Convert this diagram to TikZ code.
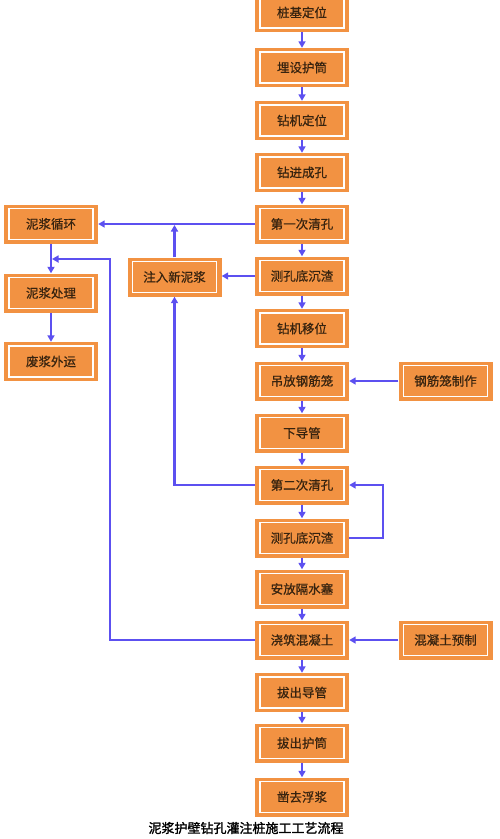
\documentclass[tikz,border=0pt]{standalone}
\usepackage{fontspec}
\newfontfamily\cjk[FakeBold=0.6]{Noto Sans CJK SC}
\newfontfamily\cjkb[FakeBold=1.6]{Noto Sans CJK SC}
\usetikzlibrary{arrows.meta}
\definecolor{boxorange}{RGB}{242,146,66}
\definecolor{flowblue}{RGB}{92,80,240}
\definecolor{txt}{RGB}{55,35,15}
\tikzset{
  stepbox/.style={fill=boxorange, draw=none, minimum width=94pt, minimum height=39pt,
    inner sep=0pt, text=txt, font=\cjk\fontsize{12.5}{14}\selectfont,
    path picture={\draw[white, line width=1.5pt]
      ([shift={(5pt,-4pt)}]path picture bounding box.north west) rectangle
      ([shift={(-5pt,4pt)}]path picture bounding box.south east);}},
  flow/.style={draw=flowblue, line width=2.2pt, -{Triangle[length=6.5pt,width=7pt]}}
}
\begin{document}
\begin{tikzpicture}[x=1pt,y=-1pt]
\useasboundingbox (0,0) rectangle (500,839);
\clip (0,0) rectangle (500,839);
% main column
\node[stepbox] (b1) at (302,12.5) {桩基定位};
\node[stepbox] (b2) at (302,67.5) {埋设护筒};
\node[stepbox] (b3) at (302,120.5) {钻机定位};
\node[stepbox] (b4) at (302,172.5) {钻进成孔};
\node[stepbox] (b5) at (302,224) {第一次清孔};
\node[stepbox] (b6) at (302,276) {测孔底沉渣};
\node[stepbox] (b7) at (302,328.5) {钻机移位};
\node[stepbox] (b8) at (302,381) {吊放钢筋笼};
\node[stepbox] (b9) at (302,433) {下导管};
\node[stepbox] (b10) at (302,485) {第二次清孔};
\node[stepbox] (b11) at (302,538) {测孔底沉渣};
\node[stepbox] (b12) at (302,589) {安放隔水塞};
\node[stepbox] (b13) at (302,640) {浇筑混凝土};
\node[stepbox] (b14) at (302,692.5) {拔出导管};
\node[stepbox] (b15) at (302,743) {拔出护筒};
\node[stepbox] (b16) at (302,797) {凿去浮浆};
% left column
\node[stepbox] (l1) at (51,224) {泥浆循环};
\node[stepbox] (l2) at (51,293) {泥浆处理};
\node[stepbox] (l3) at (51,361.5) {废浆外运};
\node[stepbox] (n1) at (174.5,277) {注入新泥浆};
% right column
\node[stepbox] (r1) at (445.5,381) {钢筋笼制作};
\node[stepbox] (r2) at (445.5,640) {混凝土预制};
% caption
\node[font=\cjkb\fontsize{13}{15}\selectfont, text=black] (cap) at (246,828) {泥浆护壁钻孔灌注桩施工工艺流程};
% main arrows
\foreach \a/\b in {b1/b2,b2/b3,b3/b4,b4/b5,b5/b6,b6/b7,b7/b8,b8/b9,b9/b10,b10/b11,b11/b12,b12/b13,b13/b14,b14/b15,b15/b16}
  \draw[flow] (\a.south) -- (\b.north);
\draw[flow] (l1.south) -- (l2.north);
\draw[flow] (l2.south) -- (l3.north);
% mud circulation
\draw[flow] (b5.west) -- (l1.east);
\coordinate (j1) at (n1.north |- b5.west);
\draw[flow] (n1.north) -- ([yshift=-1pt]j1);
\draw[flow] (b6.west) -- (b6.west -| n1.east);
\draw[flow] (b10.west) -| (n1.south);
% concrete return
\coordinate (c1) at (110,640);
\coordinate (c2) at (110,259);
\coordinate (c3) at (l1.south |- c2);
\draw[flow] (b13.west) -- (c1) -- (c2) -- ([xshift=1pt]c3);
% second clean loop
\coordinate (d1) at (383,538);
\coordinate (d2) at (383,485);
\draw[flow] (b11.east) -- (d1) -- (d2) -- (b10.east);
% side inputs
\draw[flow] (r1.west) -- (b8.east);
\draw[flow] (r2.west) -- (b13.east);
\end{tikzpicture}
\end{document}
